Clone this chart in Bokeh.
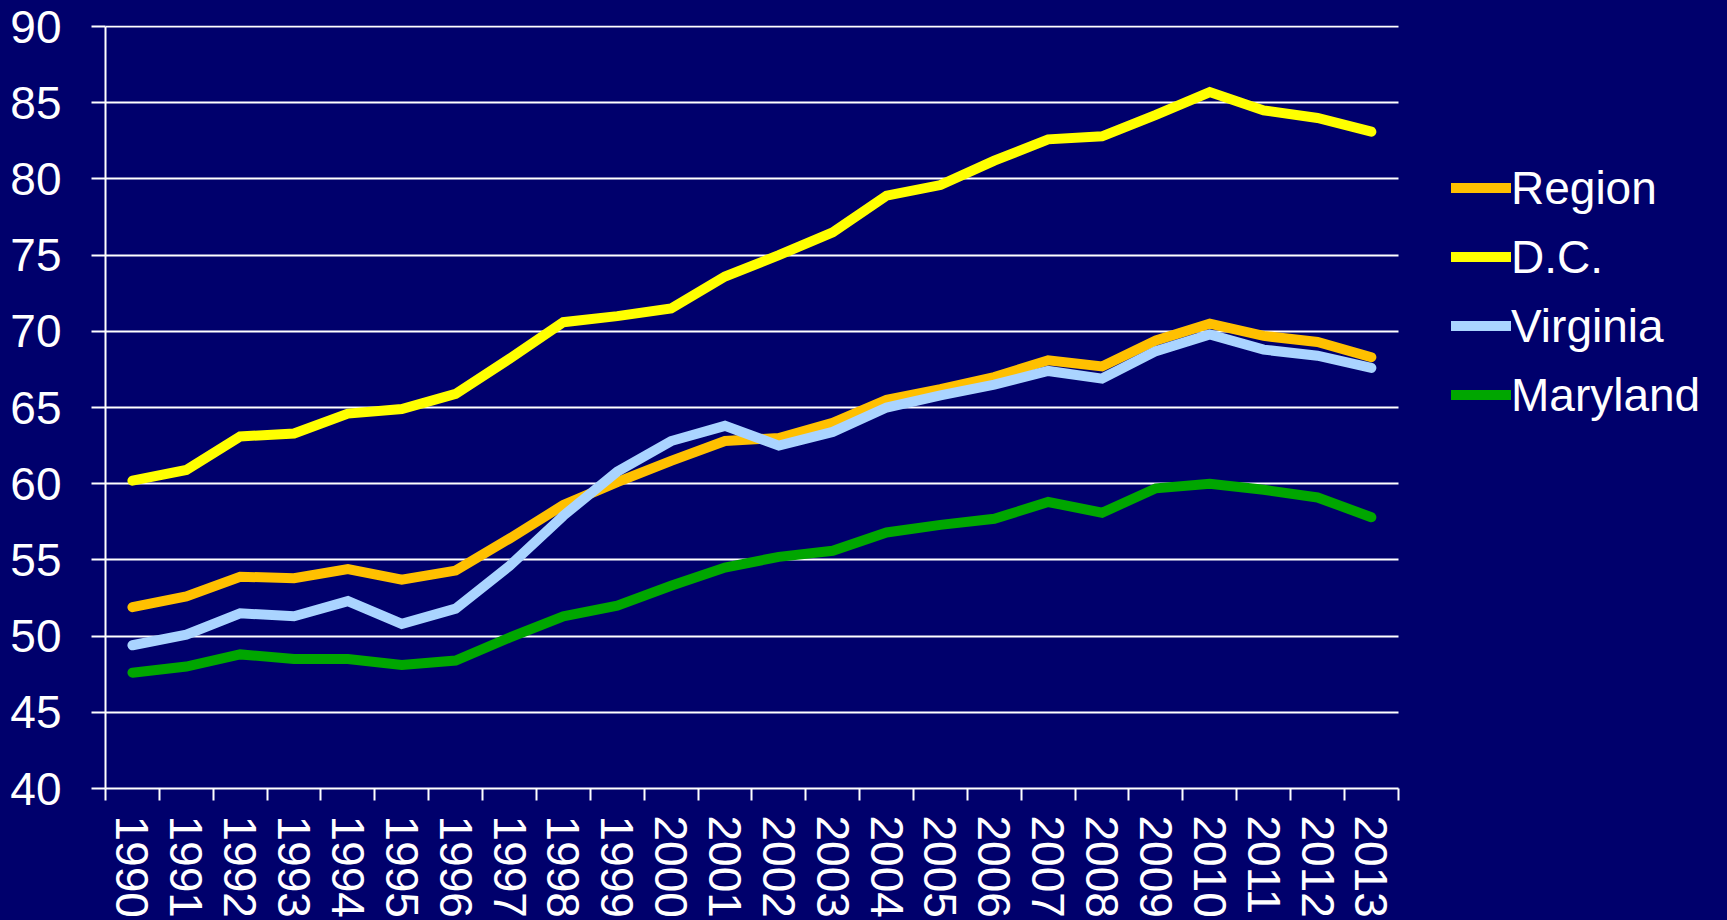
from bokeh.plotting import figure
from bokeh.models import Range1d, FixedTicker, Legend, LegendItem
from bokeh.embed import file_html
from bokeh.resources import INLINE

years = list(range(1990, 2014))
y_ticks = [40, 45, 50, 55, 60, 65, 70, 75, 80, 85, 90]

region = [51.9, 52.6, 53.9, 53.8, 54.4, 53.7, 54.3, 56.4, 58.6, 60.1, 61.5, 62.8,
          63.0, 64.0, 65.5, 66.2, 67.0, 68.1, 67.7, 69.4, 70.5, 69.7, 69.3, 68.3]
dc = [60.2, 60.9, 63.1, 63.3, 64.6, 64.9, 65.9, 68.2, 70.6, 71.0, 71.5, 73.6,
      75.0, 76.5, 78.9, 79.6, 81.2, 82.6, 82.8, 84.2, 85.7, 84.5, 84.0, 83.1]
virginia = [49.4, 50.1, 51.5, 51.3, 52.3, 50.8, 51.8, 54.6, 57.9, 60.8, 62.8, 63.8,
            62.5, 63.4, 65.0, 65.8, 66.5, 67.4, 66.9, 68.7, 69.8, 68.8, 68.4, 67.6]
maryland = [47.6, 48.0, 48.8, 48.5, 48.5, 48.1, 48.4, 49.9, 51.3, 52.0, 53.3, 54.5,
            55.2, 55.6, 56.8, 57.3, 57.7, 58.8, 58.1, 59.7, 60.0, 59.6, 59.1, 57.8]

series_names = ["Region", "D.C.", "Virginia", "Maryland"]
series_values = [region, dc, virginia, maryland]
series_colors = ["#FFC000", "#FFFF00", "#AAD4FF", "#00A600"]

BG = "#00006C"
FONT = "Liberation Sans"

x_lo = years[0] - 0.5
x_hi = years[-1] + 0.5
# frame extends to the right so the legend can sit inside it; grid and axis are bounded
x_view_hi = x_lo + 30

p = figure(width=1721, height=920, output_backend="svg", toolbar_location=None,
           x_range=Range1d(x_lo, x_view_hi),
           y_range=Range1d(y_ticks[0], y_ticks[-1] + 0.07),
           min_border_left=105, min_border_right=0, min_border_top=25,
           min_border_bottom=129)
p.background_fill_color = BG
p.border_fill_color = BG
p.outline_line_color = None

# x axis
p.xaxis.bounds = (x_lo, x_hi)
p.xaxis.ticker = FixedTicker(ticks=years,
                             minor_ticks=[y - 0.5 for y in years] + [x_hi])
p.xaxis.major_label_orientation = "vertical"
p.xaxis.major_label_text_font = FONT
p.xaxis.major_label_text_font_size = "46px"
p.xaxis.major_label_text_color = "white"
p.xaxis.major_label_standoff = 15
p.xaxis.major_tick_line_color = None
p.xaxis.major_tick_out = 12
p.xaxis.major_tick_in = 0
p.xaxis.minor_tick_line_color = "white"
p.xaxis.minor_tick_line_width = 2
p.xaxis.minor_tick_out = 12
p.xaxis.minor_tick_in = 0
p.xaxis.axis_line_color = "white"
p.xaxis.axis_line_width = 2
p.xgrid.visible = False

# y axis
p.yaxis.bounds = (y_ticks[0], y_ticks[-1])
p.yaxis.ticker = FixedTicker(ticks=y_ticks)
p.yaxis.major_label_text_font = FONT
p.yaxis.major_label_text_font_size = "46px"
p.yaxis.major_label_text_color = "white"
p.yaxis.major_label_standoff = 30
p.yaxis.major_tick_line_color = "white"
p.yaxis.major_tick_line_width = 2
p.yaxis.major_tick_out = 14
p.yaxis.major_tick_in = 0
p.yaxis.minor_tick_line_color = None
p.yaxis.axis_line_color = "white"
p.yaxis.axis_line_width = 2

ygrid = p.ygrid[0]
if "cross_bounds" in ygrid.properties():
    ygrid.grid_line_color = "white"
    ygrid.grid_line_width = 2
    ygrid.cross_bounds = (x_lo, x_hi)
else:
    ygrid.visible = False
    p.segment(x0=[x_lo] * len(y_ticks), x1=[x_hi] * len(y_ticks),
              y0=y_ticks, y1=y_ticks, line_color="white", line_width=2)

items = []
for name, vals, col in zip(series_names, series_values, series_colors):
    r = p.line(years, vals, line_color=col, line_width=10,
               line_cap="round", line_join="miter")
    items.append(LegendItem(label=name, renderers=[r]))

legend = Legend(items=items, location=(1346, 359), orientation="vertical",
                padding=0, margin=0, spacing=0,
                border_line_color=None, background_fill_alpha=0,
                label_text_color="white", label_text_font=FONT,
                label_text_font_size="46px",
                glyph_width=60, glyph_height=69, label_height=69,
                label_standoff=0)
p.add_layout(legend)

template = """{% block preamble %}<style>html, body { background-color: #00006C; }</style>{% endblock %}"""

open("out.html", "w").write(file_html(p, INLINE, template=template))
